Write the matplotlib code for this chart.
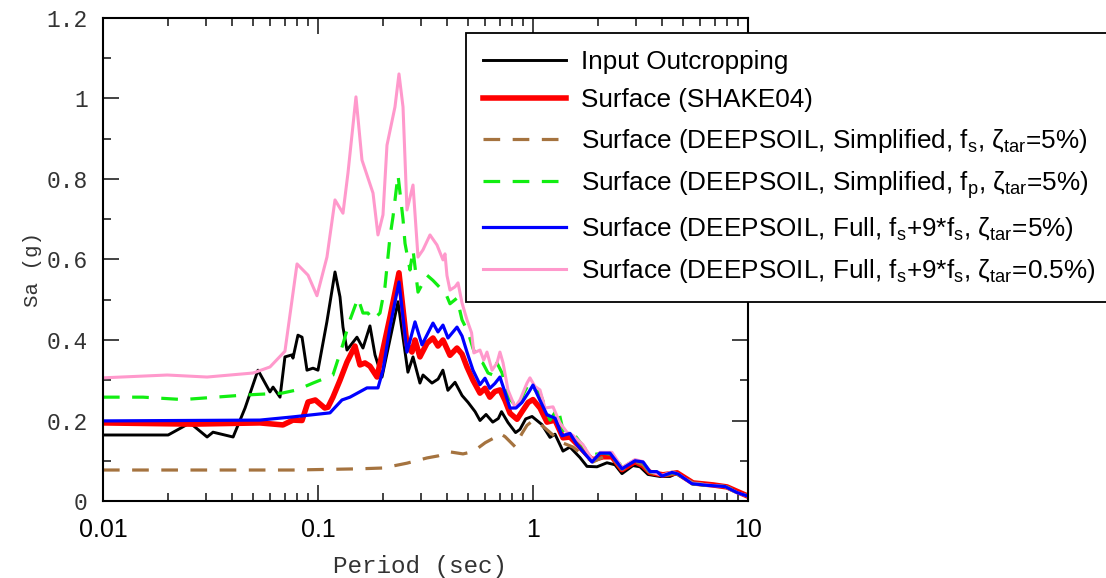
import matplotlib
matplotlib.use("Agg")
import matplotlib.pyplot as plt
from matplotlib.ticker import FixedLocator, FuncFormatter, LogLocator, NullFormatter

plt.rcParams['mathtext.fontset'] = 'custom'
plt.rcParams['mathtext.rm'] = 'Liberation Sans'
plt.rcParams['mathtext.it'] = 'Liberation Sans:italic'
plt.rcParams['lines.scale_dashes'] = False

# spectra: period (s) and Sa (g)
t_input = [0.01, 0.0201, 0.0254, 0.0305, 0.0325, 0.0403, 0.0458, 0.0526, 0.0598, 0.0618,
           0.0666, 0.0702, 0.0757, 0.0765, 0.0807, 0.0843, 0.0889, 0.0948, 0.100, 0.110,
           0.120, 0.1266, 0.1307, 0.1364, 0.1518, 0.1619, 0.1745, 0.1842, 0.1985, 0.2356,
           0.262, 0.2767, 0.298, 0.308, 0.339, 0.362, 0.381, 0.402, 0.434, 0.468,
           0.499, 0.538, 0.567, 0.605, 0.650, 0.690, 0.714, 0.765, 0.83, 0.87,
           0.925, 0.99, 1.10, 1.2, 1.266, 1.379, 1.486, 1.654, 1.783, 1.985,
           2.208, 2.407, 2.594, 2.917, 3.147, 3.427, 3.897, 4.338, 4.677, 5.55,
           6.87, 7.99, 10.0]
sa_input = [0.164, 0.164, 0.194, 0.159, 0.171, 0.159, 0.231, 0.325, 0.271, 0.283,
            0.258, 0.358, 0.363, 0.355, 0.412, 0.407, 0.325, 0.330, 0.325, 0.445,
            0.569, 0.507, 0.432, 0.375, 0.407, 0.380, 0.435, 0.363, 0.308, 0.495,
            0.320, 0.358, 0.293, 0.313, 0.293, 0.303, 0.325, 0.275, 0.295, 0.262,
            0.245, 0.222, 0.200, 0.215, 0.196, 0.205, 0.222, 0.195, 0.170, 0.178,
            0.204, 0.210, 0.190, 0.158, 0.166, 0.124, 0.134, 0.108, 0.086, 0.085,
            0.095, 0.090, 0.068, 0.088, 0.085, 0.066, 0.061, 0.061, 0.069, 0.045,
            0.040, 0.035, 0.012]

t_shake = [0.01, 0.0262, 0.0537, 0.0687, 0.0765, 0.0843, 0.0899, 0.0972, 0.1075, 0.1113,
           0.1174, 0.1266, 0.1364, 0.1486, 0.1568, 0.1654, 0.1745, 0.1882, 0.2162, 0.2381,
           0.2594, 0.2737, 0.2827, 0.298, 0.3214, 0.3427, 0.3615, 0.3814, 0.4111, 0.4432,
           0.4677, 0.4932, 0.526, 0.567, 0.598, 0.630, 0.665, 0.702, 0.741, 0.782,
           0.843, 0.889, 0.950, 1.0, 1.078, 1.162, 1.266, 1.379, 1.486, 1.654,
           1.882, 2.117, 2.330, 2.594, 2.982, 3.248, 3.50, 4.024, 4.677, 5.55,
           6.87, 7.99, 10.0]
sa_shake = [0.194, 0.191, 0.194, 0.189, 0.201, 0.200, 0.246, 0.251, 0.231, 0.233,
            0.258, 0.300, 0.345, 0.385, 0.338, 0.343, 0.335, 0.308, 0.457, 0.567,
            0.388, 0.370, 0.400, 0.358, 0.392, 0.405, 0.385, 0.400, 0.362, 0.380,
            0.365, 0.333, 0.300, 0.268, 0.280, 0.258, 0.272, 0.276, 0.250, 0.218,
            0.203, 0.222, 0.245, 0.252, 0.231, 0.196, 0.201, 0.157, 0.159, 0.134,
            0.102, 0.110, 0.110, 0.078, 0.098, 0.088, 0.071, 0.065, 0.070, 0.045,
            0.040, 0.035, 0.012]

t_simp_fs = [0.01, 0.0765, 0.1568, 0.2006, 0.2594, 0.3214, 0.3615, 0.4111, 0.4727, 0.50,
             0.55, 0.60, 0.65, 0.70, 0.741, 0.825, 0.889, 0.938, 1.0, 1.11,
             1.239, 1.379, 1.535, 1.708, 1.90, 2.117, 2.33, 2.594, 2.982, 3.25,
             3.5, 4.0, 4.68, 5.55, 6.87, 7.99, 10.0]
sa_simp_fs = [0.077, 0.077, 0.080, 0.082, 0.094, 0.107, 0.112, 0.122, 0.117, 0.120,
              0.130, 0.145, 0.155, 0.168, 0.160, 0.135, 0.168, 0.188, 0.200, 0.186,
              0.164, 0.144, 0.134, 0.114, 0.097, 0.109, 0.109, 0.078, 0.098, 0.090,
              0.069, 0.063, 0.069, 0.045, 0.040, 0.035, 0.012]

t_simp_fp = [0.01, 0.01535, 0.02355, 0.04478, 0.068, 0.0799, 0.0948, 0.1174, 0.1307, 0.1409,
             0.1535, 0.1619, 0.1708, 0.1803, 0.1943, 0.2049, 0.2162, 0.2233, 0.2356, 0.2486,
             0.2540, 0.2679, 0.2767, 0.2919, 0.3214, 0.3427, 0.3694, 0.3897, 0.4111, 0.4432,
             0.4677, 0.4986, 0.5261, 0.555, 0.584, 0.618, 0.652, 0.68, 0.718, 0.765,
             0.852, 0.907, 0.958, 1.0, 1.078, 1.2, 1.307, 1.379, 1.535, 1.841,
             2.117, 2.4, 2.594, 2.982, 3.248, 3.5, 3.981, 4.432, 4.727, 5.49,
             6.45, 7.82, 8.89, 10.0]
sa_simp_fp = [0.258, 0.258, 0.252, 0.263, 0.268, 0.276, 0.293, 0.313, 0.390, 0.450,
              0.504, 0.467, 0.467, 0.450, 0.467, 0.532, 0.656, 0.706, 0.810, 0.700,
              0.640, 0.574, 0.624, 0.519, 0.561, 0.548, 0.530, 0.520, 0.490, 0.504,
              0.450, 0.420, 0.379, 0.350, 0.343, 0.318, 0.313, 0.343, 0.318, 0.258,
              0.231, 0.268, 0.293, 0.280, 0.268, 0.201, 0.231, 0.176, 0.169, 0.114,
              0.119, 0.115, 0.082, 0.102, 0.097, 0.072, 0.063, 0.071, 0.066, 0.043,
              0.039, 0.036, 0.021, 0.012]

t_full5 = [0.01, 0.0537, 0.0765, 0.1137, 0.1293, 0.1409, 0.169, 0.1901, 0.2006, 0.2162,
           0.2381, 0.2594, 0.2827, 0.3046, 0.3427, 0.3615, 0.3814, 0.4024, 0.4432, 0.4677,
           0.4932, 0.526, 0.567, 0.598, 0.630, 0.665, 0.702, 0.741, 0.782, 0.834,
           0.889, 0.96, 1.0, 1.078, 1.162, 1.266, 1.364, 1.486, 1.602, 1.882,
           2.049, 2.281, 2.594, 2.982, 3.248, 3.50, 3.774, 3.981, 4.432, 4.727,
           5.49, 6.45, 7.82, 8.89, 10.0]
sa_full5 = [0.199, 0.201, 0.209, 0.219, 0.251, 0.258, 0.281, 0.281, 0.325, 0.432,
            0.544, 0.370, 0.445, 0.388, 0.442, 0.420, 0.437, 0.405, 0.432, 0.410,
            0.370, 0.325, 0.289, 0.305, 0.280, 0.292, 0.308, 0.270, 0.231, 0.231,
            0.245, 0.272, 0.288, 0.250, 0.214, 0.206, 0.162, 0.168, 0.140, 0.097,
            0.119, 0.119, 0.080, 0.100, 0.097, 0.073, 0.073, 0.062, 0.071, 0.067,
            0.043, 0.039, 0.036, 0.021, 0.012]

t_full05 = [0.01, 0.0199, 0.0305, 0.0499, 0.0598, 0.0702, 0.0799, 0.0899, 0.0989, 0.1101,
            0.120, 0.1307, 0.1379, 0.1502, 0.1602, 0.1803, 0.1901, 0.2006, 0.2094, 0.2281,
            0.2381, 0.2486, 0.2594, 0.2767, 0.2919, 0.3079, 0.3319, 0.3577, 0.3814, 0.3897,
            0.3981, 0.4111, 0.4338, 0.4481, 0.4677, 0.4932, 0.518, 0.531, 0.567, 0.59,
            0.611, 0.645, 0.68, 0.702, 0.726, 0.765, 0.825, 0.870, 0.938, 0.968,
            1.02, 1.078, 1.137, 1.239, 1.335, 1.439, 1.535, 1.708, 1.90, 2.049,
            2.33, 2.594, 2.982, 3.248, 3.5, 3.981, 4.432, 4.727, 5.49, 6.45,
            7.82, 8.89, 10.0]
sa_full05 = [0.306, 0.313, 0.308, 0.318, 0.333, 0.372, 0.589, 0.561, 0.510, 0.606,
             0.748, 0.715, 0.815, 1.004, 0.847, 0.765, 0.661, 0.711, 0.884, 0.979,
             1.061, 0.979, 0.723, 0.785, 0.606, 0.624, 0.661, 0.636, 0.599, 0.614,
             0.560, 0.524, 0.532, 0.542, 0.492, 0.450, 0.418, 0.368, 0.375, 0.350,
             0.370, 0.325, 0.343, 0.370, 0.343, 0.276, 0.233, 0.251, 0.293, 0.306,
             0.285, 0.276, 0.231, 0.234, 0.194, 0.171, 0.163, 0.140, 0.100, 0.121,
             0.121, 0.083, 0.103, 0.098, 0.073, 0.064, 0.072, 0.067, 0.044, 0.040,
             0.036, 0.021, 0.012]

labels = [
    "Input Outcropping",
    "Surface (SHAKE04)",
    r"Surface (DEEPSOIL, Simplified, f$_\mathregular{s}$, ζ$_\mathregular{tar}$=5%)",
    r"Surface (DEEPSOIL, Simplified, f$_\mathregular{p}$, ζ$_\mathregular{tar}$=5%)",
    r"Surface (DEEPSOIL, Full, f$_\mathregular{s}$+9*f$_\mathregular{s}$, ζ$_\mathregular{tar}$=5%)",
    r"Surface (DEEPSOIL, Full, f$_\mathregular{s}$+9*f$_\mathregular{s}$, ζ$_\mathregular{tar}$=0.5%)",
]

fig = plt.figure(figsize=(11.06, 5.78), dpi=100)
ax = fig.add_axes([0.0931, 0.1332, 0.5832, 0.8357])

l_in, = ax.plot(t_input, sa_input, color='black', lw=2.1)
l_sh, = ax.plot(t_shake, sa_shake, color='#ff0000', lw=4.0)
l_fs, = ax.plot(t_simp_fs, sa_simp_fs, color='#a5733f', lw=2.3, ls='--', dashes=(12, 9))
l_fp, = ax.plot(t_simp_fp, sa_simp_fp, color='#11ee11', lw=2.3, ls='--', dashes=(12, 9))
l_05, = ax.plot(t_full05, sa_full05, color='#ff99cc', lw=2.2)
l_5, = ax.plot(t_full5, sa_full5, color='#0000ff', lw=2.3)

ax.set_xscale('log')
ax.set_xlim(0.01, 10)
ax.set_ylim(0, 1.2)

ax.xaxis.set_major_locator(FixedLocator([0.01, 0.1, 1, 10]))
ax.xaxis.set_major_formatter(FuncFormatter(lambda v, p: {0.01: '0.01', 0.1: '0.1', 1: '1', 10: '10'}.get(round(v, 3), '')))
ax.xaxis.set_minor_locator(LogLocator(base=10, subs=range(2, 10)))
ax.xaxis.set_minor_formatter(NullFormatter())
ax.yaxis.set_major_locator(FixedLocator([0, 0.2, 0.4, 0.6, 0.8, 1.0, 1.2]))
ax.yaxis.set_major_formatter(FuncFormatter(lambda v, p: '0' if v == 0 else ('1' if abs(v - 1) < 1e-9 else f'{v:g}')))
ax.yaxis.set_minor_locator(FixedLocator([0.1, 0.3, 0.5, 0.7, 0.9, 1.1]))

ax.tick_params(which='both', direction='in', top=True, right=True, width=1.2, color='#222222')
ax.tick_params(which='major', length=11.5)
ax.tick_params(which='minor', length=6)
ax.tick_params(axis='x', which='major', pad=12, labelsize=18)
ax.tick_params(axis='y', which='major', pad=11, labelsize=16.5)
for lab in ax.get_yticklabels():
    lab.set_family('Liberation Mono')
    lab.set_color('#333333')
for lab in ax.get_xticklabels():
    lab.set_family('Liberation Sans')
for sp in ax.spines.values():
    sp.set_linewidth(1.5)

ax.set_xlabel('Period (sec)', family='Liberation Mono', fontsize=17.5, color='#333333')
ax.set_ylabel('Sa (g)', family='Liberation Mono', fontsize=15, color='#333333')
ax.xaxis.set_label_coords(0.492, -0.112)
ax.yaxis.set_label_coords(-0.095, 0.48)

leg = fig.legend([l_in, l_sh, l_fs, l_fp, l_5, l_05], labels,
                 loc='upper left', bbox_to_anchor=(0.4213, 0.9429),
                 bbox_transform=fig.transFigure, borderaxespad=0,
                 prop={'family': 'Liberation Sans', 'size': 18.8},
                 handlelength=3.2, handletextpad=0.55, labelspacing=0.55,
                 borderpad=0.65, fancybox=False, framealpha=1, edgecolor='black')
leg.get_frame().set_linewidth(1.3)

fig.savefig('out.png', dpi=100)
